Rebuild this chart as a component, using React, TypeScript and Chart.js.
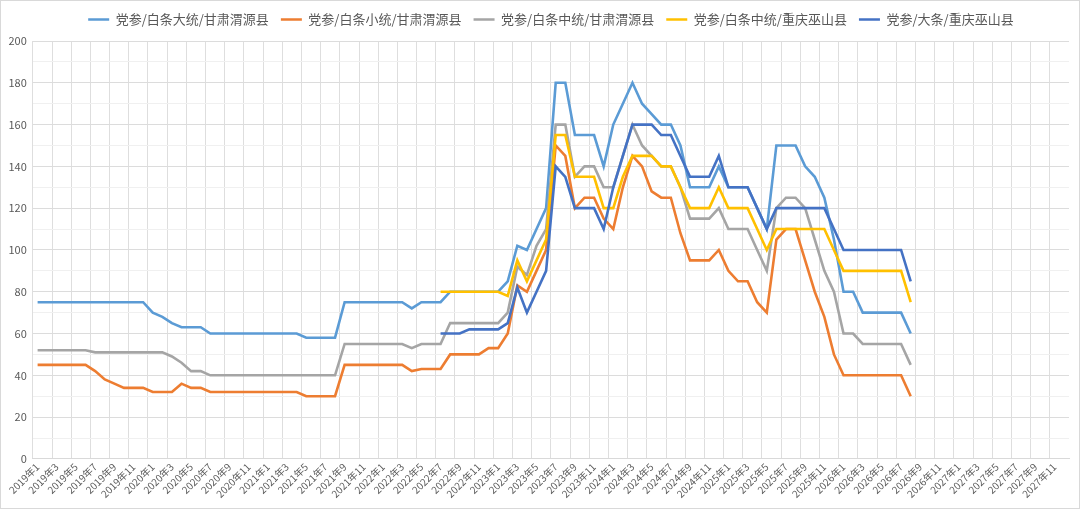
import React, { useEffect, useRef } from 'react';
import { Chart, registerables } from 'chart.js';

Chart.register(...registerables);

const years = [2019, 2020, 2021, 2022, 2023, 2024, 2025, 2026, 2027];
const monthLabels: string[] = years.flatMap((y) =>
  [1, 2, 3, 4, 5, 6, 7, 8, 9, 10, 11, 12].map((m) => `${y}年${m}`)
);

const seriesNames = [
  '党参/白条大统/甘肃渭源县',
  '党参/白条小统/甘肃渭源县',
  '党参/白条中统/甘肃渭源县',
  '党参/白条中统/重庆巫山县',
  '党参/大条/重庆巫山县',
];

const seriesColors = ['#5B9BD5', '#ED7D31', '#A5A5A5', '#FFC000', '#4472C4'];

// 2019年1 .. 2026年8, monthly
const datongWeiyuan = [
  75, 75, 75, 75, 75, 75, 75, 75, 75, 75, 75, 75,
  70, 68, 65, 63, 63, 63, 60, 60, 60, 60, 60, 60,
  60, 60, 60, 60, 58, 58, 58, 58, 75, 75, 75, 75,
  75, 75, 75, 72, 75, 75, 75, 80, 80, 80, 80, 80,
  80, 85, 102, 100, 110, 120, 180, 180, 155, 155, 155, 140,
  160, 170, 180, 170, 165, 160, 160, 150, 130, 130, 130, 140,
  130, 130, 130, 120, 110, 150, 150, 150, 140, 135, 125, 105,
  80, 80, 70, 70, 70, 70, 70, 60,
];

const xiaotongWeiyuan = [
  45, 45, 45, 45, 45, 45, 42, 38, 36, 34, 34, 34,
  32, 32, 32, 36, 34, 34, 32, 32, 32, 32, 32, 32,
  32, 32, 32, 32, 30, 30, 30, 30, 45, 45, 45, 45,
  45, 45, 45, 42, 43, 43, 43, 50, 50, 50, 50, 53,
  53, 60, 83, 80, 90, 100, 150, 145, 120, 125, 125, 115,
  110, 130, 145, 140, 128, 125, 125, 108, 95, 95, 95, 100,
  90, 85, 85, 75, 70, 105, 110, 110, 95, 80, 68, 50,
  40, 40, 40, 40, 40, 40, 40, 30,
];

const zhongtongWeiyuan = [
  52, 52, 52, 52, 52, 52, 51, 51, 51, 51, 51, 51,
  51, 51, 49, 46, 42, 42, 40, 40, 40, 40, 40, 40,
  40, 40, 40, 40, 40, 40, 40, 40, 55, 55, 55, 55,
  55, 55, 55, 53, 55, 55, 55, 65, 65, 65, 65, 65,
  65, 70, 92, 88, 102, 110, 160, 160, 135, 140, 140, 130,
  130, 145, 160, 150, 145, 140, 140, 130, 115, 115, 115, 120,
  110, 110, 110, 100, 90, 120, 125, 125, 120, 105, 90, 80,
  60, 60, 55, 55, 55, 55, 55, 45,
];

const zhongtongWushan = [
  null, null, null, null, null, null, null, null, null, null, null, null,
  null, null, null, null, null, null, null, null, null, null, null, null,
  null, null, null, null, null, null, null, null, null, null, null, null,
  null, null, null, null, null, null, 80, 80, 80, 80, 80, 80,
  80, 78, 95, 85, 95, 105, 155, 155, 135, 135, 135, 120,
  120, 135, 145, 145, 145, 140, 140, 130, 120, 120, 120, 130,
  120, 120, 120, 110, 100, 110, 110, 110, 110, 110, 110, 100,
  90, 90, 90, 90, 90, 90, 90, 75,
];

const datiaoWushan = [
  null, null, null, null, null, null, null, null, null, null, null, null,
  null, null, null, null, null, null, null, null, null, null, null, null,
  null, null, null, null, null, null, null, null, null, null, null, null,
  null, null, null, null, null, null, 60, 60, 60, 62, 62, 62,
  62, 65, 82, 70, 80, 90, 140, 135, 120, 120, 120, 110,
  130, 145, 160, 160, 160, 155, 155, 145, 135, 135, 135, 145,
  130, 130, 130, 120, 110, 120, 120, 120, 120, 120, 120, 110,
  100, 100, 100, 100, 100, 100, 100, 85,
];

const seriesValues = [datongWeiyuan, xiaotongWeiyuan, zhongtongWeiyuan, zhongtongWushan, datiaoWushan];

const FONT = "'Noto Sans CJK SC', 'Noto Sans', sans-serif";

// adds a bit of room under the legend
const legendGap = {
  id: 'legendGap',
  beforeInit(chart: any) {
    const legend = chart.legend;
    if (!legend) return;
    const origFit = legend.fit;
    legend.fit = function () {
      origFit.call(this);
      this.height += 5;
    };
  },
};

const App: React.FC = () => {
  const canvasRef = useRef<HTMLCanvasElement | null>(null);
  const chartRef = useRef<Chart | null>(null);

  useEffect(() => {
    document.body.style.margin = '0';
    if (!canvasRef.current) return;
    if (chartRef.current) chartRef.current.destroy();

    chartRef.current = new Chart(canvasRef.current, {
      type: 'line',
      data: {
        labels: monthLabels,
        datasets: seriesNames.map((name, i) => ({
          label: name,
          data: seriesValues[i],
          borderColor: seriesColors[i],
          backgroundColor: seriesColors[i],
          borderWidth: 2.6,
          pointRadius: 0,
          tension: 0,
          fill: false,
          spanGaps: false,
          order: seriesNames.length - i, // later series on top, as in the original
        })),
      },
      plugins: [legendGap],
      options: {
        animation: false,
        responsive: true,
        maintainAspectRatio: false,
        layout: { padding: { left: 1.5, right: 10, top: 0, bottom: 6 } },
        plugins: {
          tooltip: { enabled: false },
          legend: {
            position: 'top',
            fullSize: false,
            labels: {
              usePointStyle: true,
              pointStyle: 'line',
              pointStyleWidth: 21,
              padding: 12,
              color: '#595959',
              font: { family: FONT, size: 13 },
              sort: (a, b) => (a.datasetIndex ?? 0) - (b.datasetIndex ?? 0),
            },
          },
        },
        scales: {
          x: {
            offset: true,
            grid: {
              offset: true,
              drawTicks: false,
              color: (ctx) => (ctx.index % 2 === 0 ? '#dedede' : 'rgba(0,0,0,0)'),
            },
            border: { display: true, color: '#d9d9d9' },
            ticks: {
              autoSkip: false,
              minRotation: 45,
              maxRotation: 45,
              padding: 2,
              color: '#595959',
              font: { family: FONT, size: 10 },
              callback: (_v, idx) => (idx % 2 === 0 ? monthLabels[idx] : ''),
            },
          },
          y: {
            min: 0,
            max: 200,
            grid: {
              drawTicks: false,
              color: (ctx) => (ctx.tick && ctx.tick.value % 20 === 0 ? '#dcdcdc' : '#f0f0f0'),
            },
            border: { display: false },
            ticks: {
              stepSize: 5,
              padding: 6,
              color: '#595959',
              font: { family: FONT, size: 11 },
              callback: (v) => (Number(v) % 20 === 0 ? String(v) : ''),
            },
          },
        },
      },
    });

    return () => {
      if (chartRef.current) {
        chartRef.current.destroy();
        chartRef.current = null;
      }
    };
  }, []);

  return (
    <div
      style={{
        position: 'absolute',
        left: 0,
        top: 0,
        width: 1080,
        height: 509,
        boxSizing: 'border-box',
        border: '1px solid #d9d9d9',
        background: '#ffffff',
      }}
    >
      <canvas ref={canvasRef} />
    </div>
  );
};

export default App;
